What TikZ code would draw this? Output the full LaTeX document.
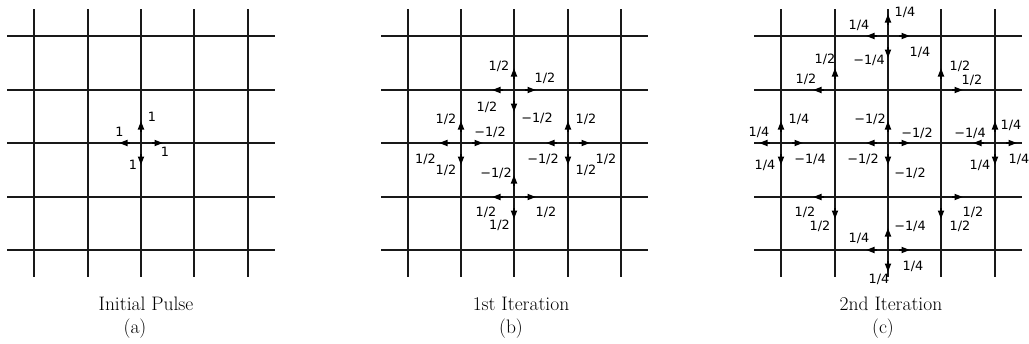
\documentclass[tikz,border=0pt]{standalone}
\usepackage{fontspec}
\usetikzlibrary{arrows.meta}
\newfontfamily\labfont{DejaVu Sans}
\begin{document}
\begin{tikzpicture}[x=1pt,y=-1pt,
  gridline/.style={line width=1.8pt,black!90},
  parr/.style={line width=1.8pt,black,-{Triangle[length=8.5pt,width=6pt]}},
  lab/.style={inner sep=0pt,font=\labfont\fontsize{12.8}{13}\selectfont},
  captext/.style={inner sep=0pt,font=\fontsize{19.5}{21}\selectfont},
  pu/.pic={\draw[parr] (0,-11) -- (0,-22);},
  pd/.pic={\draw[parr] (0,11) -- (0,22);},
  pl/.pic={\draw[parr] (-11,0) -- (-22,0);},
  pr/.pic={\draw[parr] (11,0) -- (22,0);}
]
\useasboundingbox (0,0) rectangle (1029,343);
% grids
\foreach \xa/\xb/\xs in {7/275/{34,88,141,194,248},381/648/{408,461,514,568,621},754/1022/{781,835,888,941,995}}{
  \foreach \y in {36,90,143,197,250}{
    \draw[gridline] (\xa,\y) -- (\xb,\y);
  }
  \foreach \x in \xs{
    \draw[gridline] (\x,9) -- (\x,277);
  }
}
% ---------- (a) ----------
\foreach \p in {pu,pl,pr,pd}{\pic at (141,143) {\p};}
\node[lab] (a1) at (152,117) {1};
\node[lab] (a2) at (119.5,132) {1};
\node[lab] (a3) at (165,152) {1};
\node[lab] (a4) at (133,165) {1};
\node[captext] (capa) at (146,304) {Initial Pulse};
\node[captext] (suba) at (135,329) {(a)};
% ---------- (b) ----------
\foreach \p in {pu,pl,pr,pd}{\pic at (514,90) {\p};}
\foreach \p in {pu,pl,pr,pd}{\pic at (461,143) {\p};}
\foreach \p in {pu,pl,pr,pd}{\pic at (568,143) {\p};}
\foreach \p in {pu,pl,pr,pd}{\pic at (514,197) {\p};}
\node[lab] (b1) at (499,66.5) {1/2};
\node[lab] (b2) at (545,78) {1/2};
\node[lab] (b3) at (487,107) {1/2};
\node[lab] (b4) at (537,118) {−1/2};
\node[lab] (b5) at (446,119) {1/2};
\node[lab] (b6) at (490,132) {−1/2};
\node[lab] (b7) at (425.5,159) {1/2};
\node[lab] (b8) at (446,170) {1/2};
\node[lab] (b9) at (586,119) {1/2};
\node[lab] (b10) at (543,159) {−1/2};
\node[lab] (b11) at (606,159) {1/2};
\node[lab] (b12) at (586,170) {1/2};
\node[lab] (b13) at (496,173) {−1/2};
\node[lab] (b14) at (486,212) {1/2};
\node[lab] (b15) at (546,212) {1/2};
\node[lab] (b16) at (499.5,225) {1/2};
\node[captext] (capb) at (521,304) {1st Iteration};
\node[captext] (subb) at (511,329) {(b)};
% ---------- (c) ----------
\foreach \p in {pu,pl,pr,pd}{\pic at (888,36) {\p};}
\foreach \p in {pu,pl,pr,pd}{\pic at (781,143) {\p};}
\foreach \p in {pu,pl,pr,pd}{\pic at (888,143) {\p};}
\foreach \p in {pu,pl,pr,pd}{\pic at (995,143) {\p};}
\foreach \p in {pu,pl,pr,pd}{\pic at (888,250) {\p};}
\pic at (835,90) {pu};
\pic at (835,90) {pl};
\pic at (941,90) {pu};
\pic at (941,90) {pr};
\pic at (835,197) {pl};
\pic at (835,197) {pd};
\pic at (941,197) {pr};
\pic at (941,197) {pd};
% top node
\node[lab] (c1) at (905,12) {1/4};
\node[lab] (c2) at (859,25) {1/4};
\node[lab] (c3) at (920,52) {1/4};
\node[lab] (c4) at (869,60) {−1/4};
% diagonal upper
\node[lab] (c5) at (825,59) {1/2};
\node[lab] (c6) at (806,79) {1/2};
\node[lab] (c7) at (960,66) {1/2};
\node[lab] (c8) at (972,80) {1/2};
% left node
\node[lab] (c9) at (799,119) {1/4};
\node[lab] (c10) at (759,132) {1/4};
\node[lab] (c11) at (810,159) {−1/4};
\node[lab] (c12) at (765,165) {1/4};
% centre node
\node[lab] (c13) at (870,119) {−1/2};
\node[lab] (c14) at (917,133) {−1/2};
\node[lab] (c15) at (863,159) {−1/2};
\node[lab] (c16) at (910,173) {−1/2};
% right node
\node[lab] (c17) at (1011,125) {1/4};
\node[lab] (c18) at (970,133) {−1/4};
\node[lab] (c19) at (1019,159) {1/4};
\node[lab] (c20) at (980,165) {1/4};
% diagonal lower
\node[lab] (c21) at (805,212) {1/2};
\node[lab] (c22) at (820,226) {1/2};
\node[lab] (c23) at (973,212) {1/2};
\node[lab] (c24) at (960,226) {1/2};
% bottom node
\node[lab] (c25) at (910,226) {−1/4};
\node[lab] (c26) at (859,238) {1/4};
\node[lab] (c27) at (913,266) {1/4};
\node[lab] (c28) at (879,279) {1/4};
\node[captext] (capc) at (891,304) {2nd Iteration};
\node[captext] (subc) at (883,329) {(c)};
\end{tikzpicture}
\end{document}
